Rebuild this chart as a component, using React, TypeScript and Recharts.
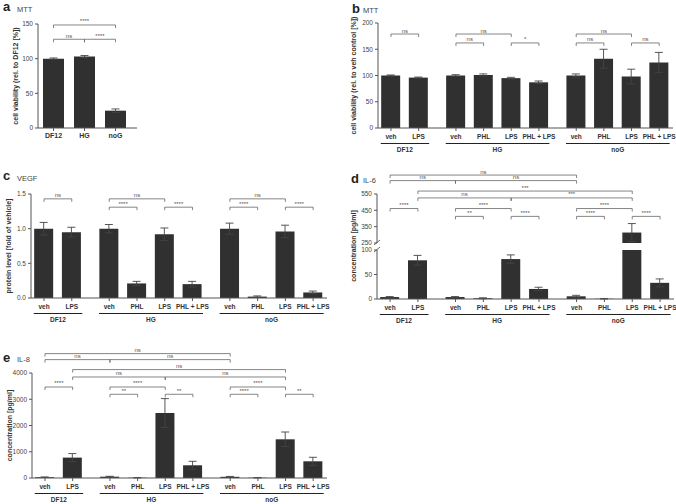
import { Bar, BarChart, ErrorBar, ReferenceLine, XAxis, YAxis } from 'recharts'

// ---- data ----
const groupNames = ['DF12', 'HG', 'noG']
const groupTreatments = [
  ['veh', 'LPS'],
  ['veh', 'PHL', 'LPS', 'PHL + LPS'],
  ['veh', 'PHL', 'LPS', 'PHL + LPS'],
]

// a: MTT rel. to DF12
const mttGroups = ['DF12', 'HG', 'noG']
const mttMean = [100, 103, 25]
const mttErr = [1, 1.5, 2.5]

// b: MTT rel. to veh control
const mttCtrlMean = [100, 96, 100, 101, 95, 87, 100, 132, 98, 125]
const mttCtrlErr = [1, 1, 1.5, 2, 1.5, 2.5, 3, 18, 14, 19]

// c: VEGF (fold of vehicle)
const vegfMean = [1.0, 0.95, 1.0, 0.21, 0.92, 0.2, 1.0, 0.02, 0.96, 0.08]
const vegfErr = [0.09, 0.07, 0.06, 0.03, 0.09, 0.04, 0.08, 0.01, 0.09, 0.02]

// d: IL-6 [pg/ml]
const il6Mean = [4, 79, 4, 1.5, 81.5, 20.5, 5.5, 0.5, 314, 33]
const il6Err = [1, 10, 1, 1, 8.5, 3.5, 2, 0.5, 55, 8]

// e: IL-8 [pg/ml]
const il8Mean = [30, 777, 50, 10, 2476, 484, 45, 10, 1474, 636]
const il8Err = [10, 153, 15, 5, 549, 152, 15, 5, 278, 153]

// significance brackets: [from bar, to bar, label, row]
type Bracket = [number, number, string, number]
const mttBrackets: Bracket[] = [[0, 2, '****', 1], [0, 1, 'ns', 0], [1, 2, '****', 0]]
const mttCtrlBrackets: Bracket[] = [
  [0, 1, 'ns', 1], [2, 4, 'ns', 1], [2, 3, 'ns', 0], [4, 5, '*', 0],
  [6, 8, 'ns', 1], [6, 7, 'ns', 0], [8, 9, 'ns', 0],
]
const vegfBrackets: Bracket[] = [
  [0, 1, 'ns', 1], [2, 4, 'ns', 1], [2, 3, '****', 0], [4, 5, '****', 0],
  [6, 8, 'ns', 1], [6, 7, '****', 0], [8, 9, '****', 0],
]
const il6Brackets: Bracket[] = [
  [0, 6, 'ns', 5], [0, 2, 'ns', 4], [2, 6, 'ns', 4], [1, 8, '***', 3],
  [1, 4, 'ns', 2], [4, 8, '***', 2], [0, 1, '****', 1], [2, 4, '****', 1], [6, 8, '****', 1],
  [2, 3, '**', 0], [4, 5, '****', 0], [6, 7, '****', 0], [8, 9, '****', 0],
]
const il8Brackets: Bracket[] = [
  [0, 6, 'ns', 5], [0, 2, 'ns', 4], [2, 6, 'ns', 4], [1, 8, 'ns', 3],
  [1, 4, 'ns', 2], [4, 8, 'ns', 2], [0, 1, '****', 1], [2, 4, '****', 1], [6, 8, '****', 1],
  [2, 3, '**', 0], [4, 5, '**', 0], [6, 7, '****', 0], [8, 9, '**', 0],
]

// ---- layout ----
const FONT = '"Liberation Sans", Arial, Helvetica, sans-serif'
const BAR = '#303030'
const AXIS = '#555'
const GROUP_GAP = 0.35
const X_DOMAIN: [number, number] = [-0.47, 10.2]
const X_AXIS_H = 26

// bar positions along the x axis, with a little extra room between groups
const positions: number[] = []
const barGroup: number[] = []
const groupFirst: number[] = []
{
  let n = 0
  groupTreatments.forEach((ts, g) => {
    groupFirst.push(n)
    ts.forEach(() => {
      positions.push(n + g * GROUP_GAP)
      barGroup.push(g)
      n++
    })
  })
}
const treatmentLabels = groupTreatments.flat()

const bracketShape = (label: string) => (p: any) => {
  const { x1, x2, y1 } = p
  return (
    <g>
      <path d={`M${x1},${y1 + 3}V${y1}H${x2}V${y1 + 3}`} fill="none" stroke="#666" strokeWidth={0.8} />
      <text x={(x1 + x2) / 2} y={y1 - 1.5} textAnchor="middle" fontSize={6} fill="#555" opacity={0.99}>
        {label}
      </text>
    </g>
  )
}

const breakMark = (p: any) => (
  <path d={`M${p.x1 - 3},${p.y1 + 2}L${p.x1 + 3},${p.y1 - 3}`} stroke={AXIS} strokeWidth={0.9} />
)

// treatment label under each bar; the first bar of a group also draws the group line + name
const barTick = (ppu: number) => (props: any) => {
  const { x, y, index } = props
  const g = barGroup[index]
  const isFirst = groupFirst[g] === index
  const span = (groupTreatments[g].length - 1) * ppu
  return (
    <g>
      <text x={x} y={y + 6.3} textAnchor="middle" fontSize={6.5} fontWeight="bold" fill="#333">
        {treatmentLabels[index]}
      </text>
      {isFirst && (
        <g>
          <line
            x1={x - 0.37 * ppu}
            x2={x + span + 0.38 * ppu}
            y1={y + 10.5}
            y2={y + 10.5}
            stroke="#222"
            strokeWidth={1.2}
          />
          <text x={x + span / 2} y={y + 18.8} textAnchor="middle" fontSize={6.5} fontWeight="bold" fill="#333">
            {groupNames[g]}
          </text>
        </g>
      )}
    </g>
  )
}

interface PanelProps {
  left: number
  top: number
  width: number
  height: number
  plotLeft: number
  plotRight: number
  plotTop: number
  plotBottom: number
  yDomain: [number, number]
  yTicks: number[]
  yFormat?: (v: number) => string
  mean: number[]
  err: number[]
  brackets?: Bracket[]
  levels?: number[]
  yLabel?: string
  yLabelX?: number
  showX?: boolean
  breakAt?: number
}

function Panel(s: PanelProps) {
  const data = positions.map((pos, i) => ({ pos, mean: s.mean[i], err: s.err[i] }))
  const showX = s.showX !== false
  const margin = {
    top: s.plotTop - s.top,
    right: s.left + s.width - s.plotRight,
    left: 0,
    bottom: s.top + s.height - s.plotBottom - (showX ? X_AXIS_H : 0),
  }
  const ppu = (s.plotRight - s.plotLeft) / (X_DOMAIN[1] - X_DOMAIN[0])
  return (
    <div style={{ position: 'absolute', left: s.left, top: s.top }}>
      <BarChart width={s.width} height={s.height} data={data} margin={margin}>
        <XAxis
          dataKey="pos"
          type="number"
          domain={X_DOMAIN}
          allowDataOverflow
          ticks={positions}
          interval={0}
          tickSize={3}
          tickMargin={2}
          height={X_AXIS_H}
          stroke={AXIS}
          tick={barTick(ppu)}
          hide={!showX}
        />
        <YAxis
          type="number"
          domain={s.yDomain}
          ticks={s.yTicks}
          allowDataOverflow
          interval={0}
          width={s.plotLeft - s.left}
          tickSize={3}
          stroke={AXIS}
          tickFormatter={s.yFormat}
          tick={{ fontSize: 6.5, fill: '#444' }}
          label={
            s.yLabel
              ? {
                  value: s.yLabel,
                  angle: -90,
                  position: 'insideLeft',
                  offset: s.yLabelX ?? 10,
                  fontSize: 7,
                  fontWeight: 'bold',
                  fill: '#333',
                  style: { textAnchor: 'middle' },
                }
              : undefined
          }
        />
        <Bar dataKey="mean" fill={BAR} barSize={19} isAnimationActive={false}>
          <ErrorBar dataKey="err" width={4} stroke="#444" strokeWidth={0.9} />
        </Bar>
        {s.breakAt != null && <ReferenceLine y={s.breakAt} shape={breakMark} />}
        {(s.brackets ?? []).map(([a, b, label, row], i) => (
          <ReferenceLine
            key={i}
            ifOverflow="visible"
            segment={[
              { x: positions[a], y: s.levels![row] },
              { x: positions[b], y: s.levels![row] },
            ]}
            shape={bracketShape(label)}
          />
        ))}
      </BarChart>
    </div>
  )
}

function MttPanel() {
  const data = mttGroups.map((name, i) => ({ name, mean: mttMean[i], err: mttErr[i] }))
  const levels = [128, 148.6]
  return (
    <div style={{ position: 'absolute', left: 0, top: 0 }}>
      <BarChart width={145} height={160} data={data} margin={{ top: 24, right: 8, left: 0, bottom: 12 }}>
        <XAxis
          dataKey="name"
          padding={{ left: 0, right: 6 }}
          tickSize={3}
          height={20}
          stroke={AXIS}
          tick={{ fontSize: 7, fontWeight: 'bold', fill: '#333' }}
        />
        <YAxis
          domain={[0, 150]}
          ticks={[0, 50, 100, 150]}
          width={38}
          tickSize={3}
          stroke={AXIS}
          tick={{ fontSize: 6.5, fill: '#444' }}
          label={{
            value: 'cell viability (rel. to DF12 [%])',
            angle: -90,
            position: 'insideLeft',
            offset: 16,
            fontSize: 7,
            fontWeight: 'bold',
            fill: '#333',
            style: { textAnchor: 'middle' },
          }}
        />
        <Bar dataKey="mean" fill={BAR} barSize={21} isAnimationActive={false}>
          <ErrorBar dataKey="err" width={4} stroke="#444" strokeWidth={0.9} />
        </Bar>
        {mttBrackets.map(([a, b, label, row], i) => (
          <ReferenceLine
            key={i}
            ifOverflow="visible"
            segment={[
              { x: mttGroups[a], y: levels[row] },
              { x: mttGroups[b], y: levels[row] },
            ]}
            shape={bracketShape(label)}
          />
        ))}
      </BarChart>
    </div>
  )
}

export default function App() {
  return (
    <div
      style={{
        position: 'absolute',
        left: 0,
        top: 0,
        width: 676,
        height: 504,
        background: '#fff',
        fontFamily: FONT,
        overflow: 'hidden',
      }}
    >
      <MttPanel />
      <Panel
        left={340} top={0} width={336} height={160}
        plotLeft={378} plotRight={673} plotTop={23} plotBottom={128}
        yDomain={[0, 200]} yTicks={[0, 50, 100, 150, 200]}
        mean={mttCtrlMean} err={mttCtrlErr}
        brackets={mttCtrlBrackets} levels={[162, 179]}
        yLabel="cell viability (rel. to veh control [%])" yLabelX={14}
      />
      <Panel
        left={0} top={165} width={335} height={165}
        plotLeft={31} plotRight={327} plotTop={194} plotBottom={298}
        yDomain={[0, 1.5]} yTicks={[0, 0.5, 1, 1.5]} yFormat={(v) => v.toFixed(1)}
        mean={vegfMean} err={vegfErr}
        brackets={vegfBrackets} levels={[1.31, 1.43]}
        yLabel="protein level [fold of vehicle]" yLabelX={8.5}
      />
      <Panel
        left={340} top={160} width={336} height={85}
        plotLeft={377} plotRight={674} plotTop={194} plotBottom={243}
        yDomain={[250, 550]} yTicks={[250, 350, 450, 550]}
        mean={il6Mean} err={il6Err}
        brackets={il6Brackets} levels={[413, 461, 526, 568, 632, 666]}
        showX={false} breakAt={250}
      />
      <Panel
        left={340} top={246} width={336} height={84}
        plotLeft={377} plotRight={674} plotTop={250} plotBottom={299}
        yDomain={[0, 100]} yTicks={[0, 50, 100]}
        mean={il6Mean} err={il6Err}
        breakAt={100}
      />
      <Panel
        left={0} top={335} width={335} height={169}
        plotLeft={32} plotRight={327} plotTop={373} plotBottom={478}
        yDomain={[0, 4000]} yTicks={[0, 1000, 2000, 3000, 4000]}
        mean={il8Mean} err={il8Err}
        brackets={il8Brackets} levels={[3189, 3467, 3848, 4130, 4510, 4739]}
        yLabel="concentration [pg/ml]" yLabelX={10}
      />
      <svg
        width={676}
        height={504}
        style={{ position: 'absolute', left: 0, top: 0, pointerEvents: 'none' }}
      >
        <g fill="#222" fontWeight="bold" fontSize={13}>
          <text x={3} y={11}>a</text>
          <text x={352} y={13}>b</text>
          <text x={3} y={180}>c</text>
          <text x={351} y={182.5}>d</text>
          <text x={3} y={362}>e</text>
        </g>
        <g fill="#444" fontSize={7.5}>
          <text x={17} y={11.5}>MTT</text>
          <text x={363} y={12.5}>MTT</text>
          <text x={17} y={181}>VEGF</text>
          <text x={363} y={182.5}>IL-6</text>
          <text x={17} y={362}>IL-8</text>
        </g>
        <text
          transform="translate(355.5,246) rotate(-90)"
          textAnchor="middle"
          fontSize={7}
          fontWeight="bold"
          fill="#333"
        >
          concentration [pg/ml]
        </text>
      </svg>
    </div>
  )
}
